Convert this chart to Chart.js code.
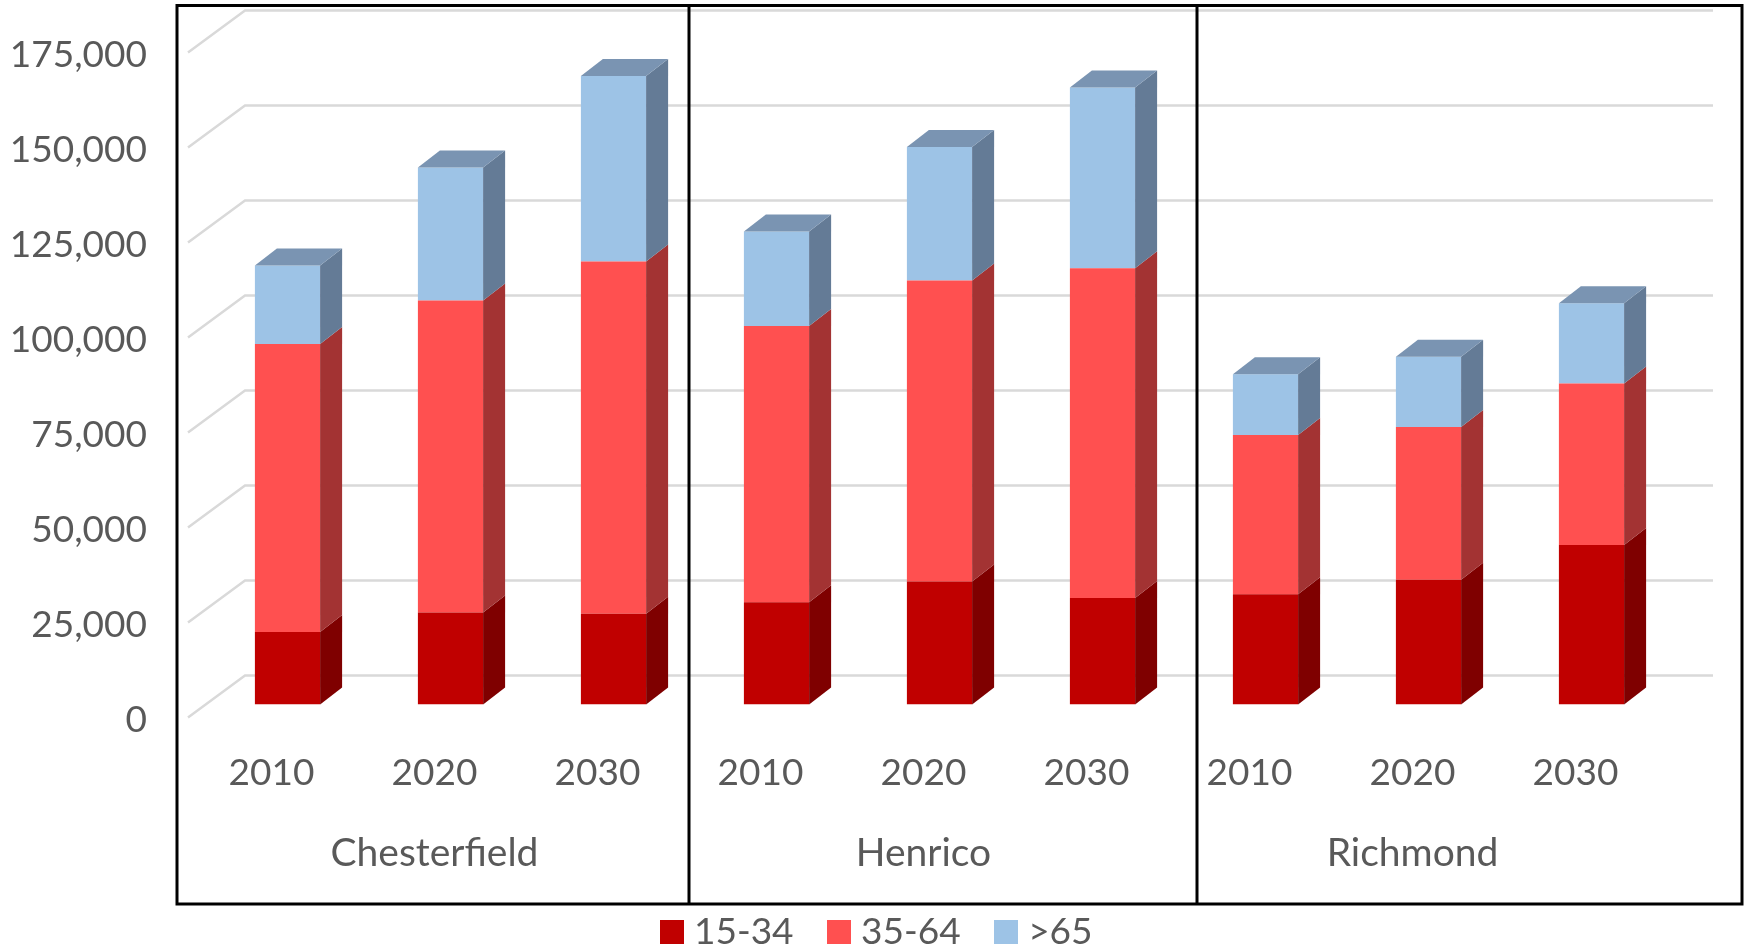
<!DOCTYPE html>
<html>
<head>
<meta charset="utf-8">
<style>html,body{margin:0;padding:0;background:#fff}canvas{display:block}</style>
<script src="https://cdn.jsdelivr.net/npm/chart.js@4"></script>
</head>
<body>
<canvas id="c" width="1744" height="949"></canvas>
<script>
const categories = ["2010","2020","2030","2010","2020","2030","2010","2020","2030"];
const groups = ["Chesterfield","Henrico","Richmond"];
const seriesNames = ["15-34","35-64",">65"];
const age15to34 = [19100,24200,23900,26900,32400,28000,29000,32800,42000];
const age35to64 = [75800,82100,92700,72700,79200,86800,41900,40200,42500];
const age65plus = [20600,35000,48800,24900,35100,47600,16000,18500,21100];
const frontColors = ["#C00000","#FF5050","#9DC3E6"];
const sideColors = ["#7F0000","#A33333","#647B96"];
const topColors = ["#7F0000","#A33333","#7A94B2"];

const FONT = "Lato, Carlito, sans-serif";
const TEXT = "#595959";
const DEPTH_X = 22, DEPTH_Y = 17;

function swatch(color){
  const s = document.createElement("canvas");
  s.width = 24; s.height = 24;
  const g = s.getContext("2d");
  g.fillStyle = color; g.fillRect(0,0,24,24);
  return s;
}

const scene3d = {
  id: "scene3d",
  afterLayout(chart){
    const l = chart.legend;
    const h = l.bottom - l.top;
    l.top = 871.5; l.bottom = l.top + h;
    l.left += 44; l.right += 44;
  },
  beforeDatasetsDraw(chart){
    const {ctx, chartArea:a, scales:{y}} = chart;
    ctx.save();
    ctx.strokeStyle = "#D9D9D9";
    ctx.lineWidth = 2.5;
    y.ticks.forEach(t => {
      const p = y.getPixelForValue(t.value);
      ctx.beginPath();
      ctx.moveTo(a.left - 18, p + 13);
      ctx.lineTo(a.left + 39, p - 29);
      ctx.lineTo(a.right + 40, p - 29);
      ctx.stroke();
    });
    ctx.restore();
  },
  afterDatasetsDraw(chart){
    const {ctx} = chart;
    ctx.save();
    chart.data.datasets.forEach((ds, i) => {
      chart.getDatasetMeta(i).data.forEach(bar => {
        const r = bar.x + bar.width / 2, l = bar.x - bar.width / 2;
        ctx.fillStyle = sideColors[i];
        ctx.beginPath();
        ctx.moveTo(r, bar.base);
        ctx.lineTo(r + DEPTH_X, bar.base - DEPTH_Y);
        ctx.lineTo(r + DEPTH_X, bar.y - DEPTH_Y);
        ctx.lineTo(r, bar.y);
        ctx.closePath();
        ctx.fill();
        if (i === chart.data.datasets.length - 1) {
          ctx.fillStyle = topColors[i];
          ctx.beginPath();
          ctx.moveTo(l, bar.y);
          ctx.lineTo(l + DEPTH_X, bar.y - DEPTH_Y);
          ctx.lineTo(r + DEPTH_X, bar.y - DEPTH_Y);
          ctx.lineTo(r, bar.y);
          ctx.closePath();
          ctx.fill();
        }
      });
    });
    ctx.restore();
  },
  afterDraw(chart){
    const {ctx} = chart;
    ctx.save();
    ctx.strokeStyle = "#000";
    ctx.lineWidth = 3;
    ctx.strokeRect(177, 5.5, 1565, 898.5);
    ctx.beginPath();
    ctx.moveTo(689, 5.5); ctx.lineTo(689, 904);
    ctx.moveTo(1197, 5.5); ctx.lineTo(1197, 904);
    ctx.stroke();
    ctx.restore();
  }
};

new Chart(document.getElementById("c"), {
  type: "bar",
  plugins: [scene3d],
  data: {
    labels: categories,
    datasets: [
      {label: seriesNames[0], data: age15to34, backgroundColor: frontColors[0]},
      {label: seriesNames[1], data: age35to64, backgroundColor: frontColors[1]},
      {label: seriesNames[2], data: age65plus, backgroundColor: frontColors[2]}
    ]
  },
  options: {
    responsive: false,
    animation: false,
    layout: {padding: {top: 39.5, left: 0, right: 71, bottom: -14.5}},
    datasets: {bar: {barPercentage: 0.4, categoryPercentage: 1}},
    plugins: {
      title: {display: false},
      tooltip: {enabled: false},
      legend: {
        position: "bottom",
        labels: {
          usePointStyle: true,
          pointStyleWidth: 7,
          boxHeight: 24,
          padding: 42,
          color: TEXT,
          font: {family: FONT, size: 37},
          generateLabels: chart => chart.data.datasets.map((ds, i) => ({
            text: ds.label,
            fontColor: TEXT,
            fillStyle: frontColors[i],
            strokeStyle: frontColors[i],
            lineWidth: 0,
            pointStyle: swatch(frontColors[i]),
            datasetIndex: i
          }))
        }
      }
    },
    scales: {
      x: {
        stacked: true,
        grid: {display: false},
        border: {display: false},
        afterFit(s){ s.height = 89; },
        ticks: {
          autoSkip: false, maxRotation: 0, minRotation: 0,
          labelOffset: -16, padding: 38,
          color: TEXT, font: {family: FONT, size: 37}
        }
      },
      x2: {
        type: "category",
        labels: groups,
        position: "bottom",
        grid: {display: false},
        border: {display: false},
        afterFit(s){ s.height = 81; },
        ticks: {
          autoSkip: false, maxRotation: 0, minRotation: 0,
          labelOffset: -16, padding: 29,
          color: TEXT, font: {family: FONT, size: 39}
        }
      },
      y: {
        stacked: true,
        min: 0, max: 175000,
        afterFit(s){ s.width = 206; s.paddingTop = 0; s.paddingBottom = 0; },
        grid: {display: false},
        border: {display: false},
        ticks: {
          stepSize: 25000,
          labelOffset: 16,
          padding: 51,
          color: TEXT, font: {family: FONT, size: 37},
          callback: v => v.toLocaleString("en-US")
        }
      }
    }
  }
});
</script>
</body>
</html>
